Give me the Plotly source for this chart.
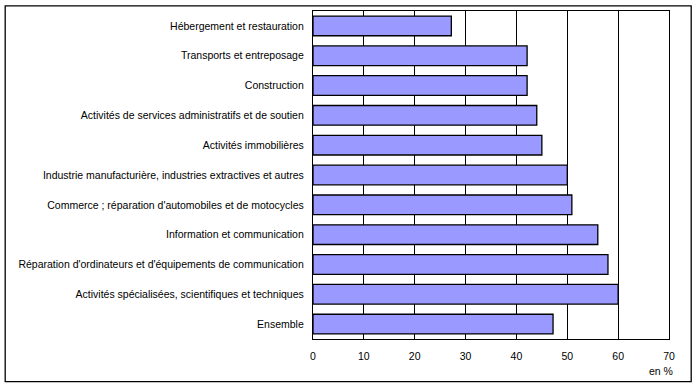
import plotly.graph_objects as go

categories = [
    "Hébergement et restauration",
    "Transports et entreposage",
    "Construction",
    "Activités de services administratifs et de soutien",
    "Activités immobilières",
    "Industrie manufacturière, industries extractives et autres",
    "Commerce ; réparation d'automobiles et de motocycles",
    "Information et communication",
    "Réparation d'ordinateurs et d'équipements de communication",
    "Activités spécialisées, scientifiques et techniques",
    "Ensemble",
]
values = [27.2, 42.1, 42.1, 44.0, 45.0, 50.0, 50.9, 56.0, 58.0, 60.0, 47.2]
x_ticks = [0, 10, 20, 30, 40, 50, 60, 70]

W, H = 700, 388
L, R, T, B = 313.3, 669.3, 10.7, 339.3

fig = go.Figure(go.Bar(
    x=values, y=categories, orientation="h",
    marker=dict(color="#9999FF", line=dict(color="black", width=1.3)),
    width=0.66,
))

font = dict(family="Liberation Sans, Arial, sans-serif", size=10.5, color="black")

fig.update_layout(
    width=W, height=H,
    margin=dict(l=L, r=W - R, t=T, b=H - B, pad=0, autoexpand=False),
    paper_bgcolor="white", plot_bgcolor="white",
    font=font, showlegend=False,
    xaxis=dict(range=[0, 70], tickvals=x_ticks, ticktext=[str(v) for v in x_ticks],
               showgrid=True, gridcolor="black", gridwidth=1,
               showline=True, linecolor="black", linewidth=1.3, mirror=True,
               ticks="", ticklabelstandoff=7, zeroline=False, fixedrange=True,
               automargin=False),
    yaxis=dict(categoryorder="array", categoryarray=categories[::-1],
               showline=True, linecolor="black", linewidth=1.3, mirror=True,
               ticks="", ticklabelstandoff=6, showgrid=False, fixedrange=True,
               automargin=False),
)

pw, ph = R - L, B - T
def px_x(p): return (p - L) / pw
def px_y(p): return (B - p) / ph

fig.add_shape(type="rect", xref="paper", yref="paper",
              x0=px_x(5.5), x1=px_x(691.5), y0=px_y(382), y1=px_y(5.5),
              line=dict(color="black", width=1.3), fillcolor="rgba(0,0,0,0)", layer="above")

fig.add_annotation(text="en %", xref="paper", yref="paper",
                   x=px_x(675), y=px_y(371), xanchor="right", yanchor="middle",
                   showarrow=False, font=font)

fig.write_html("out.html", config={"displayModeBar": False},
               post_script="document.body.style.margin='0';document.body.style.overflow='hidden';")
